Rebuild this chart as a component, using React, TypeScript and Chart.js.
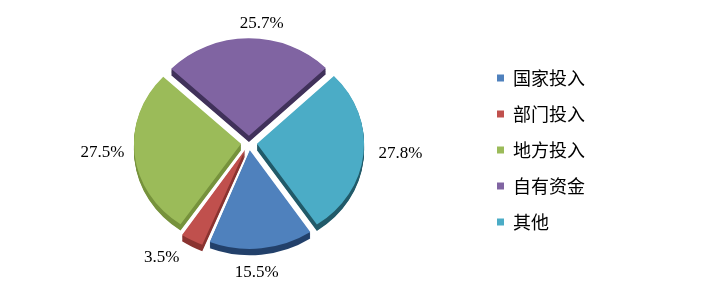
import React, { useEffect, useRef } from 'react';
import { Chart, registerables } from 'chart.js';

Chart.register(...registerables);

const categories = ['国家投入', '部门投入', '地方投入', '自有资金', '其他'];
const shares = [15.5, 3.5, 27.5, 25.7, 27.8];
const percentLabels = ['15.5%', '3.5%', '27.5%', '25.7%', '27.8%'];
const topColors = ['#4F81BD', '#C0504D', '#9BBB59', '#8064A2', '#4BACC6'];
const sideColors = ['#22406A', '#8A3330', '#76923C', '#40315A', '#215A69'];

// vertical squash (3D tilt look) applied around the pie centre
const squash = {
  id: 'squash',
  beforeDatasetsDraw(chart: any, _a: any, opts: any) {
    const arc = chart.getDatasetMeta(0).data[0];
    const ctx = chart.ctx;
    ctx.save();
    ctx.translate(arc.x, arc.y);
    ctx.scale(1, opts.k);
    ctx.translate(-arc.x, -arc.y);
    // side walls
    chart.getDatasetMeta(0).data.forEach((el: any, i: number) => {
      const fake = Object.create(el);
      fake.options = { ...el.options, backgroundColor: opts.sideColors[i], borderColor: opts.sideColors[i], borderWidth: 0 };
      for (let d = 1; d <= opts.depth; d++) {
        ctx.save();
        ctx.translate(0, d);
        el.draw.call(fake, ctx);
        ctx.restore();
      }
    });
  },
  afterDatasetsDraw(chart: any) {
    chart.ctx.restore();
  },
};

const pctLabels = {
  id: 'pctLabels',
  afterDraw(chart: any, _args: any, opts: any) {
    const meta = chart.getDatasetMeta(0);
    const ctx = chart.ctx;
    ctx.save();
    ctx.font = opts.font;
    ctx.fillStyle = opts.color;
    ctx.textAlign = 'center';
    ctx.textBaseline = 'middle';
    meta.data.forEach((arc: any, i: number) => {
      const { x, y, startAngle, endAngle, outerRadius } = arc.getProps(['x', 'y', 'startAngle', 'endAngle', 'outerRadius'], true);
      const [dA, dR] = opts.nudge[i];
      const mid = (startAngle + endAngle) / 2 + (dA * Math.PI) / 180;
      const c = Math.cos(mid);
      const s = Math.sin(mid);
      const r = outerRadius + opts.gap + dR;
      const text = percentLabels[i];
      const w = ctx.measureText(text).width;
      const h = opts.textHeight;
      ctx.fillText(text, x + c * r + (c * w) / 2, y + s * r * opts.k + (s * h) / 2);
    });
    ctx.restore();
  },
};

export default function App() {
  const ref = useRef<HTMLCanvasElement>(null);
  useEffect(() => {
    if (!ref.current) return;
    const chart = new Chart(ref.current, {
      type: 'pie',
      data: {
        labels: categories,
        datasets: [
          {
            data: shares,
            backgroundColor: topColors,
            borderWidth: 0,
            offset: 32,
            radius: 107,
          },
        ],
      },
      options: {
        responsive: false,
        animation: false,
        rotation: 146,
        layout: { padding: { left: 19, right: 108, top: 0, bottom: 17 } },
        plugins: {
          tooltip: { enabled: false },
          legend: {
            position: 'right',
            title: { display: true, text: ' ', font: { size: 10 }, padding: 1 },
            labels: {
              boxWidth: 7,
              boxHeight: 7,
              padding: 18,
              color: '#000',
              font: { family: '"Noto Sans CJK SC", sans-serif', size: 18 },
            },
          },
          squash: { k: 0.91, depth: 7, sideColors },
          pctLabels: {
            font: '17px "Liberation Serif", serif',
            color: '#000',
            gap: 17,
            k: 0.91,
            textHeight: 14,
            nudge: [[3.3, 11], [5, 18], [1.8, 1], [5.3, 0], [-1.3, 6]],
          },
        } as any,
      },
      plugins: [squash, pctLabels],
    });
    return () => chart.destroy();
  }, []);
  return (
    <div style={{ position: 'fixed', left: 0, top: 0, width: 703, height: 303, background: '#fff' }}>
      <canvas ref={ref} width={703} height={303} style={{ display: 'block' }} />
    </div>
  );
}
